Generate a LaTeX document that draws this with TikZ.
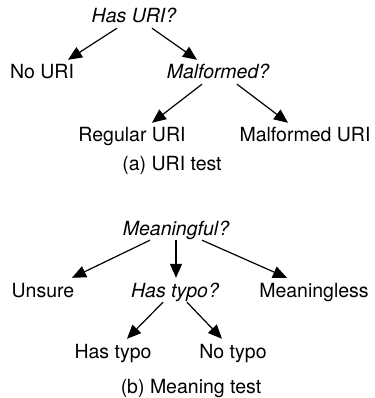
\documentclass[tikz,border=0pt]{standalone}
\usepackage{fontspec}
\setmainfont{TeX Gyre Heros}
\usepackage{tikz}
\usetikzlibrary{arrows.meta, positioning}

\begin{document}
\begin{tikzpicture}[
    x=1pt, y=-1pt,
    font=\fontsize{19.5}{23}\selectfont,
    label/.style={
        anchor=base, inner sep=0pt, text height=19pt, text depth=5pt
    },
    question/.style={label, font=\fontsize{19.5}{23}\selectfont\itshape},
    answer/.style={label},
    edge/.style={-{Triangle[length=14pt,width=12pt]}, draw=black, line width=1.2pt}
]
\useasboundingbox (0,0) rectangle (374,398);

% (a) URI test
\node[question] (hasuri)  at (134,23)  {Has URI?};
\node[answer]   (nouri)   at (42,79)   {No URI};
\node[question] (malq)    at (218,79)  {Malformed?};
\node[answer]   (regular) at (132,142) {Regular URI};
\node[answer]   (maluri)  at (305,142) {Malformed URI};
\node[answer]   (capa)    at (172,170) {(a) URI test};

% (b) Meaning test
\node[question] (meanq)   at (176,235) {Meaningful?};
\node[answer]   (unsure)  at (43,297)  {Unsure};
\node[question] (typoq)   at (175,297) {Has typo?};
\node[answer]   (meanless) at (314,297) {Meaningless};
\node[answer]   (hastypo) at (113,358) {Has typo};
\node[answer]   (notypo)  at (233,358) {No typo};
\node[answer]   (capb)    at (191,393) {(b) Meaning test};

\foreach \a/\da/\b/\db in {hasuri/-17/nouri/26, hasuri/18/malq/-21,
                           malq/-16/regular/20, malq/19/maluri/-17,
                           meanq/-26/unsure/29, meanq/0/typoq/1, meanq/26/meanless/-27,
                           typoq/-12/hastypo/14, typoq/12/notypo/-11}
  \draw[edge] ([xshift=\da pt]\a.south) -- ([xshift=\db pt]\b.north);
\end{tikzpicture}
\end{document}
